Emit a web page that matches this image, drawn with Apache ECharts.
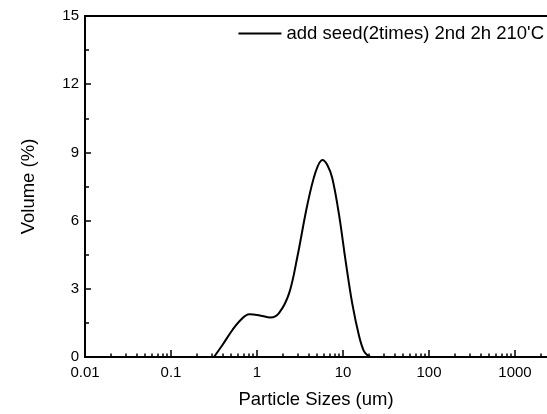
<!DOCTYPE html>
<html>
<head>
<meta charset="utf-8">
<script src="https://cdn.jsdelivr.net/npm/echarts@6/dist/echarts.min.js"></script>
<style>
  html, body { margin: 0; padding: 0; background: #fff; }
  #chartBox { width: 547px; height: 414px; }
</style>
</head>
<body>
<div id="chartBox"></div>
<script>
// particle size (um) and volume (%)
var sizes = [0.316, 0.4, 0.52, 0.65, 0.81, 1.05, 1.44, 1.8, 2.36, 2.94, 3.85, 4.82, 5.76, 6.57, 7.5, 8.98, 10.7, 12.8, 15.4, 17.5, 19.7, 21];
var volumes = [0, 0.55, 1.2, 1.64, 1.88, 1.84, 1.74, 1.93, 2.8, 4.39, 6.7, 8.16, 8.67, 8.45, 7.87, 6.27, 4.25, 2.36, 0.91, 0.26, 0.05, 0];
var xLabels = [0.01, 0.1, 1, 10, 100, 1000];
var xMinor = [];
xLabels.forEach(function (d) {
    for (var k = 2; k <= 9; k++) xMinor.push(+(d * k).toPrecision(3));
});
var seriesName = "add seed(2times) 2nd 2h 210'C";

var dom = document.getElementById('chartBox');
var myChart = echarts.init(dom);
var font = 'Liberation Sans, Arial, sans-serif';
var xMin = 0.01, xMax = 2355;

var option = {
    animation: false,
    backgroundColor: '#fff',
    textStyle: {fontFamily: font, color: '#000'},
    grid: {left: 85, right: 0, top: 16, bottom: 54},
    legend: {
        right: -2,
        top: 19,
        icon: 'rect',
        itemWidth: 43,
        itemHeight: 2,
        itemGap: 5,
        textStyle: {fontSize: 18.5, color: '#000', fontFamily: font},
        data: [seriesName]
    },
    xAxis: [
        {
            type: 'log',
            logBase: 10,
            min: xMin,
            max: xMax,
            name: 'Particle Sizes (um)',
            nameLocation: 'middle',
            nameGap: 33,
            nameTextStyle: {fontSize: 18.5, color: '#000', fontFamily: font},
            axisLine: {lineStyle: {color: '#000', width: 2}},
            axisTick: {inside: true, length: 7, lineStyle: {color: '#000', width: 1.5}, customValues: xLabels},
            axisLabel: {
                fontSize: 15, color: '#000', margin: 8, customValues: xLabels,
                formatter: function (v) { return String(+v.toPrecision(3)); }
            },
            splitLine: {show: false}
        },
        {
            type: 'log',
            logBase: 10,
            min: xMin,
            max: xMax,
            position: 'bottom',
            axisLine: {show: false},
            axisTick: {inside: true, length: 3.5, lineStyle: {color: '#000', width: 1.5}, customValues: xMinor},
            axisLabel: {show: false},
            splitLine: {show: false}
        },
        {
            type: 'log',
            min: xMin,
            max: xMax,
            position: 'top',
            axisLine: {lineStyle: {color: '#000', width: 2}},
            axisTick: {show: false},
            axisLabel: {show: false},
            splitLine: {show: false}
        }
    ],
    yAxis: {
        type: 'value',
        min: 0,
        max: 15,
        interval: 3,
        name: 'Volume (%)',
        nameLocation: 'middle',
        nameGap: 47,
        nameTextStyle: {fontSize: 18.5, color: '#000', fontFamily: font},
        axisLine: {show: true, lineStyle: {color: '#000', width: 2}},
        axisTick: {inside: true, length: 6, lineStyle: {color: '#000', width: 1.5}},
        minorTick: {show: true, splitNumber: 2, length: 4, lineStyle: {color: '#000', width: 1.5}},
        axisLabel: {fontSize: 15, color: '#000', margin: 6},
        splitLine: {show: false}
    },
    series: [
        {
            name: seriesName,
            type: 'line',
            xAxisIndex: 0,
            symbol: 'none',
            smooth: 0.35,
            lineStyle: {color: '#000', width: 2},
            itemStyle: {color: '#000'},
            data: sizes.map(function (s, i) { return [s, volumes[i]]; })
        }
    ]
};

myChart.setOption(option);
</script>
</body>
</html>
